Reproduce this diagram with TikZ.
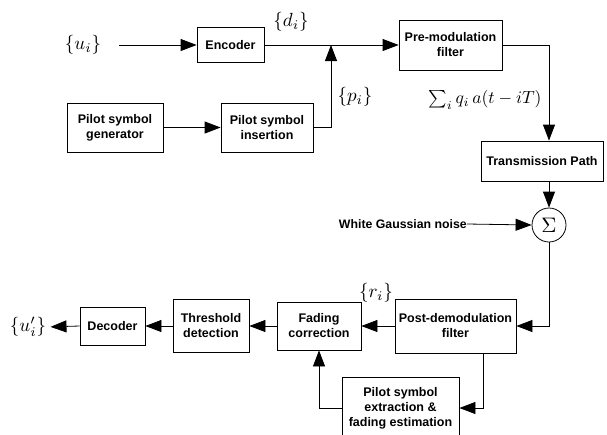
\documentclass[tikz,border=0pt]{standalone}
\usepackage[no-math]{fontspec}
\newfontfamily\lsans{Liberation Sans}
\usetikzlibrary{arrows.meta,calc}
\begin{document}
\begin{tikzpicture}[x=1pt,y=-1pt,
  box/.style={draw,line width=0.8pt,inner sep=0pt,align=center,
    font=\lsans\bfseries\fontsize{12.5}{15}\selectfont},
  lbl/.style={inner sep=0pt,scale=1.9},
  txt/.style={inner sep=0pt,font=\lsans\bfseries\fontsize{12.3}{15}\selectfont},
  arr/.style={line width=0.8pt,-{Triangle[length=16pt,width=12pt]}},
  ln/.style={line width=0.8pt}]
\useasboundingbox (0,0) rectangle (607,434);
% blocks
\node[box,minimum width=67pt,minimum height=35pt] (enc) at (230.5,45) {Encoder};
\node[box,minimum width=103pt,minimum height=50pt] (pre) at (450.5,45) {Pre-modulation\\filter};
\node[box,minimum width=96pt,minimum height=49pt] (gen) at (115,127.5) {Pilot symbol\\generator};
\node[box,minimum width=92pt,minimum height=49pt] (ins) at (267,127.5) {Pilot symbol\\insertion};
\node[box,minimum width=122pt,minimum height=40pt] (trans) at (542,161) {Transmission Path};
\node[draw,circle,line width=0.8pt,minimum size=34pt,inner sep=0pt] (sum) at (549,225) {};
\node[inner sep=0pt,scale=2.1] (sig) at (sum.center) {$\Sigma$};
\node[box,minimum width=121pt,minimum height=54pt] (post) at (455.5,326) {Post-demodulation\\filter};
\node[box,minimum width=84pt,minimum height=48pt] (fad) at (319,326) {Fading\\correction};
\node[box,minimum width=76pt,minimum height=53pt] (thr) at (211,326) {Threshold\\detection};
\node[box,minimum width=65pt,minimum height=38pt] (dec) at (112.5,326) {Decoder};
\node[box,minimum width=117pt,minimum height=62pt] (ext) at (400.5,408) {Pilot symbol\\extraction \&\\fading estimation};
% labels
\node[lbl] (ui) at (83,45) {$\{u_i\}$};
\node[lbl] (di) at (291,22) {$\{d_i\}$};
\node[lbl] (pi) at (355,97) {$\{p_i\}$};
\node[inner sep=0pt,scale=1.75] (form) at (485,100) {$\sum_i q_i\,a(t-iT)$};
\node[lbl] (ri) at (376,293) {$\{r_i\}$};
\node[lbl] (uo) at (28,327) {$\{u'_i\}$};
\node[txt,anchor=east] (noise) at (467,224) {White Gaussian noise};
\coordinate (j) at (331,45);
% connectors
\draw[arr] (ui.east) ++(18,0) -- (enc.west);
\draw[arr] (enc.east) -- (pre.west);
\draw[arr] (gen.east) -- (ins.west);
\draw[arr] (ins.east) -| (j);
\draw[arr] (pre.east) -| (sum.north |- trans.north);
\draw[arr] (sum.north |- trans.south) -- (sum.north);
\draw[arr] (noise.east) -- (sum.west);
\draw[arr] (sum.south) |- (post.east);
\draw[arr] (post.west) -- (fad.east);
\draw[arr] (fad.west) -- (thr.east);
\draw[arr] (thr.west) -- (dec.east);
\draw[arr,shorten >=4pt] (dec.west) -- (uo.east);
\draw[arr] ($(post.south)+(27.5,0)$) |- (ext.east);
\draw[arr] (ext.west) -| (fad.south);
\end{tikzpicture}
\end{document}
